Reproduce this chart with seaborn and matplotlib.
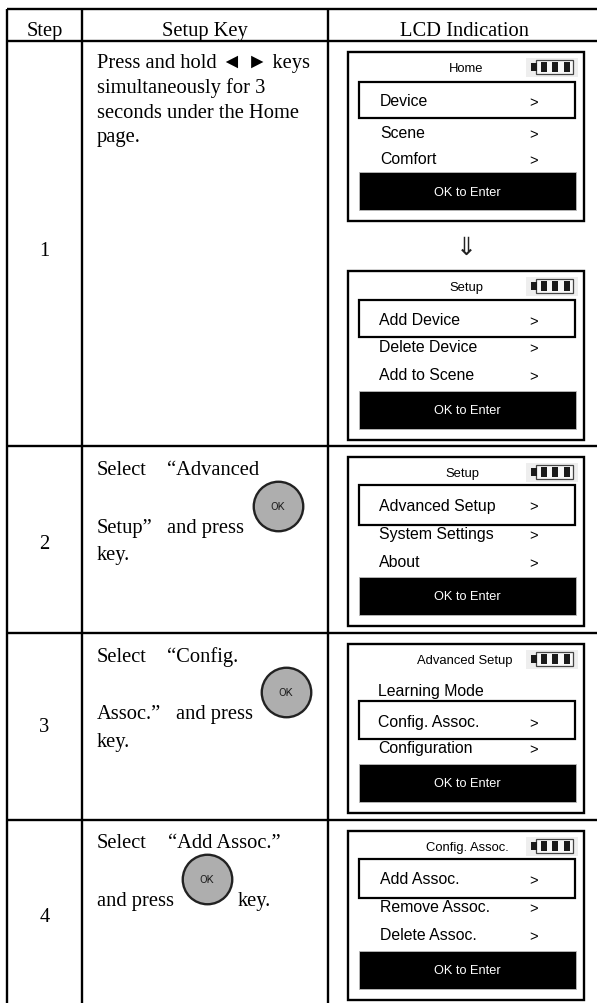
import matplotlib
matplotlib.use("Agg")
import matplotlib.pyplot as plt
from matplotlib.patches import Rectangle
import pandas as pd
import seaborn as sns

# ==========================================
# TABLE CONTENT
# ==========================================
headers = ["Step", "Setup Key", "LCD Indication"]
steps = ["1", "2", "3", "4"]

# pieces of the middle column, placed by KEY_X / KEY_Y below
key_text = [
    "Press and hold ◄ ► keys", "simultaneously for 3", "seconds under the Home", "page.",
    "Select", "“Advanced", "Setup”", "and press", "key.",
    "Select", "“Config.", "Assoc.”", "and press", "key.",
    "Select", "“Add Assoc.”", "and press", "key.",
]

screen_titles = ["Home", "Setup", "Setup", "Advanced Setup", "Config. Assoc."]
screen_items = [
    ["Device", "Scene", "Comfort"],
    ["Add Device", "Delete Device", "Add to Scene"],
    ["Advanced Setup", "System Settings", "About"],
    ["Learning Mode", "Config. Assoc.", "Configuration"],
    ["Add Assoc.", "Remove Assoc.", "Delete Assoc."],
]
screen_arrows = [
    [True, True, True],
    [True, True, True],
    [True, True, True],
    [False, True, True],
    [True, True, True],
]
footer = "OK to Enter"

# ==========================================
# LAYOUT (pixels)
# ==========================================
W, H = 597, 1004
RULE_X = [7, 82, 328]
RULE_Y = [10, 42, 447, 634, 821]
HEADER_X = [44.5, 205, 464]
STEP_Y = [251, 545, 728, 918]

KEY_X = [97, 97, 97, 97, 97, 167, 97, 167, 97, 97, 167, 97, 176, 97, 97, 168, 97, 238]
KEY_Y = [68, 93, 118, 142, 475, 475, 533, 533, 560, 662, 662, 719, 719, 747, 848, 848, 906, 906]

BUTTON_X = [278, 286, 207]
BUTTON_Y = [507, 693, 880]

FRAME_L, FRAME_R = 348, 584
FRAME_H = 169
FRAME_TOP = [53, 272, 458, 645, 832]
TITLE_X = [466, 466, 462, 465, 467.5]
ITEM_X = [380, 379, 379, 378, 380]
ARROW_X = 534
ITEM_Y = [
    [49, 81, 107],
    [49, 76, 104],
    [48, 77, 105],
    [47, 78, 104],
    [48, 76, 104],
]
BOX_Y = [(30, 66), (28.5, 65.5), (28, 67.5), (57, 95), (28, 67)]

INK = "black"
SERIF = ["Liberation Serif", "DejaVu Serif"]
SANS = "Liberation Sans"


def draw_battery(ax, top):
    ax.add_patch(Rectangle((526, top + 6), 52, 19, fc="#eeeeee", ec="none", zorder=2))
    ax.add_patch(Rectangle((536, top + 8), 37, 13.5, fc="#f8f8f8", ec="#444444", lw=0.9, zorder=3))
    ax.add_patch(Rectangle((531, top + 11), 6, 8, fc="#1a1a1a", ec="none", zorder=4))
    for x0 in [540.5, 552, 563.5]:
        ax.add_patch(Rectangle((x0, top + 10), 6, 9.5, fc="#1a1a1a", ec="none", zorder=4))


def draw_screen(ax, i):
    top = FRAME_TOP[i]
    ax.add_patch(Rectangle((FRAME_L, top), FRAME_R - FRAME_L, FRAME_H, fc="white", ec=INK, lw=1.7, zorder=1))
    ax.text(TITLE_X[i], top + 16, screen_titles[i], family=SANS, fontsize=9.4, color=INK,
            ha="center", va="center", zorder=5)
    draw_battery(ax, top)

    y0, y1 = BOX_Y[i]
    ax.add_patch(Rectangle((359, top + y0), 216, y1 - y0, fc="white", ec=INK, lw=1.6, zorder=2))
    for name, y, arrow in zip(screen_items[i], ITEM_Y[i], screen_arrows[i]):
        ax.text(ITEM_X[i], top + y, name, family=SANS, fontsize=11.4, color=INK,
                ha="left", va="center", zorder=5)
        if arrow:
            ax.text(ARROW_X, top + y + 1, ">", family=SANS, fontsize=10.5, color=INK,
                    ha="center", va="center", zorder=5)

    ax.add_patch(Rectangle((359, top + 120), 217, 38, fc="black", ec="#bbbbbb", lw=0.6, zorder=2))
    ax.text(467.5, top + 139.5, footer, family=SANS, fontsize=9.2, color="white",
            ha="center", va="center", zorder=5)


# ==========================================
# FIGURE
# ==========================================
sns.set_theme(style="white")
fig = plt.figure(figsize=(W / 100, H / 100), dpi=100, facecolor="white")
ax = fig.add_axes([0, 0, 1, 1])

# table rules
for y in RULE_Y:
    ax.plot([RULE_X[0], W], [y, y], color=INK, lw=1.7, zorder=1, solid_capstyle="butt")
for x in RULE_X:
    ax.plot([x, x], [RULE_Y[0], H], color=INK, lw=1.7, zorder=1, solid_capstyle="butt")

# header and step numbers
for label, x in zip(headers, HEADER_X):
    ax.text(x, 36, label, family=SERIF, fontsize=14.8, color=INK, ha="center", va="baseline")
for label, y in zip(steps, STEP_Y):
    ax.text(HEADER_X[0], y, label, family=SERIF, fontsize=14.8, color=INK, ha="center", va="center")

# setup key column
for label, x, y in zip(key_text, KEY_X, KEY_Y):
    ax.text(x, y, label, family=SERIF, fontsize=14.8, color=INK, ha="left", va="baseline")

# OK buttons
buttons = pd.DataFrame({"x": BUTTON_X, "y": BUTTON_Y})
sns.scatterplot(data=buttons, x="x", y="y", s=1270, color="#aeaeae", edgecolor="#222222",
                linewidth=1.7, ax=ax, zorder=3, legend=False, clip_on=False)
for x, y in zip(BUTTON_X, BUTTON_Y):
    ax.text(x, y, "OK", family="Roboto", fontsize=8, color="#222222", ha="center", va="center", zorder=4)

# LCD screens
for i in range(len(screen_titles)):
    draw_screen(ax, i)

# down arrow between the two screens of step 1
ax.text(466, 248, "⇓", family=["DejaVu Sans"], fontsize=18, color="#222222", ha="center", va="center")

ax.set_xlim(0, W)
ax.set_ylim(H, 0)
ax.set_xlabel("")
ax.set_ylabel("")
ax.axis("off")

fig.savefig("out.png", dpi=100, facecolor="white")
